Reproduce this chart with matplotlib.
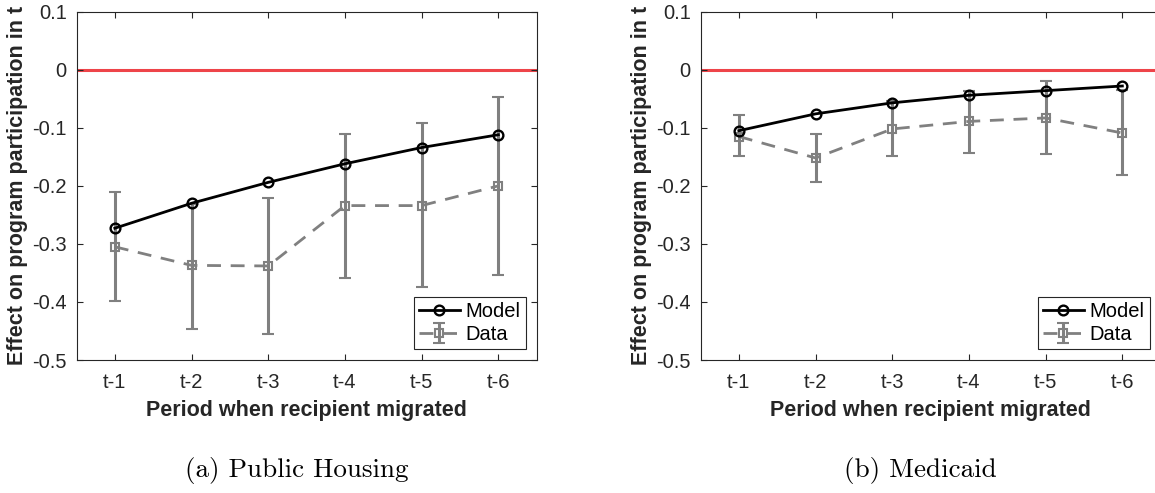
import numpy as np
import matplotlib.pyplot as plt

periods = ["t-1", "t-2", "t-3", "t-4", "t-5", "t-6"]

# (a) Public Housing
ph_model = [-0.273, -0.230, -0.194, -0.162, -0.134, -0.112]
ph_data = [-0.305, -0.337, -0.338, -0.234, -0.234, -0.200]
ph_upper = [-0.211, -0.231, -0.221, -0.110, -0.092, -0.047]
ph_lower = [-0.399, -0.446, -0.455, -0.358, -0.374, -0.354]

# (b) Medicaid
md_model = [-0.105, -0.076, -0.057, -0.044, -0.036, -0.028]
md_data = [-0.115, -0.152, -0.102, -0.089, -0.083, -0.109]
md_upper = [-0.078, -0.111, -0.053, -0.036, -0.020, -0.035]
md_lower = [-0.148, -0.194, -0.148, -0.143, -0.145, -0.181]

captions = ["(a) Public Housing", "(b) Medicaid"]

plt.rcParams["font.family"] = ["Liberation Sans", "DejaVu Sans"]

fig = plt.figure(figsize=(11.55, 4.93), dpi=100)
ax1 = fig.add_axes([76.5 / 1155, 133 / 493, 460.2 / 1155, 348.3 / 493])
ax2 = fig.add_axes([700.5 / 1155, 133 / 493, 460.2 / 1155, 348.3 / 493])

tick_col = "#262626"
gray = "#808080"


def panel(ax, model, data, upper, lower):
    x = np.arange(1, len(periods) + 1)
    d = np.array(data)
    yerr = [d - np.array(lower), np.array(upper) - d]
    ax.axhline(0, color="#EE4449", lw=2.2, zorder=1)
    eb = ax.errorbar(x, d, yerr=yerr, color=gray, ls="--", lw=2, marker="s",
                     ms=6, mfc="none", mew=1.5, elinewidth=2.2, capsize=4,
                     capthick=2, dashes=(5, 3.5), zorder=2)
    ln, = ax.plot(x, model, color="black", lw=2, marker="o", ms=7,
                  mfc="none", mew=1.7, zorder=3)
    ax.set_xlim(0.5, 6.5)
    ax.set_ylim(-0.5, 0.1)
    ax.set_xticks(x)
    ax.set_xticklabels(periods)
    ax.set_yticks([-0.5, -0.4, -0.3, -0.2, -0.1, 0, 0.1])
    ax.set_yticklabels(["-0.5", "-0.4", "-0.3", "-0.2", "-0.1", "0", "0.1"])
    ax.tick_params(direction="in", length=4, width=0.8, top=True, right=True,
                   labelsize=14.5, colors=tick_col, pad=7)
    ax.tick_params(axis="x", pad=9)
    for s in ax.spines.values():
        s.set_color(tick_col)
        s.set_linewidth(0.8)
    ax.set_xlabel("Period when recipient migrated", fontsize=15.5,
                  fontweight="bold", color=tick_col, labelpad=6)
    ax.set_ylabel("Effect on program participation in t", fontsize=15.5,
                  fontweight="bold", color=tick_col, labelpad=3)
    leg = ax.legend([ln, eb], ["Model", "Data"], loc="lower right",
                    fontsize=14.5, frameon=True, fancybox=False,
                    edgecolor=tick_col, framealpha=1, borderpad=0.25,
                    handlelength=2.0, handletextpad=0.3, labelspacing=0.2,
                    borderaxespad=0.55)
    leg.get_frame().set_linewidth(0.8)


panel(ax1, ph_model, ph_data, ph_upper, ph_lower)
panel(ax2, md_model, md_data, md_upper, md_lower)

fig.text(296.5 / 1155, 1 - 470 / 493, captions[0], family="cmr10",
         fontsize=19.5, ha="center", va="center")
fig.text(920 / 1155, 1 - 470 / 493, captions[1], family="cmr10",
         fontsize=19.5, ha="center", va="center")

fig.savefig("out.png", dpi=100)
